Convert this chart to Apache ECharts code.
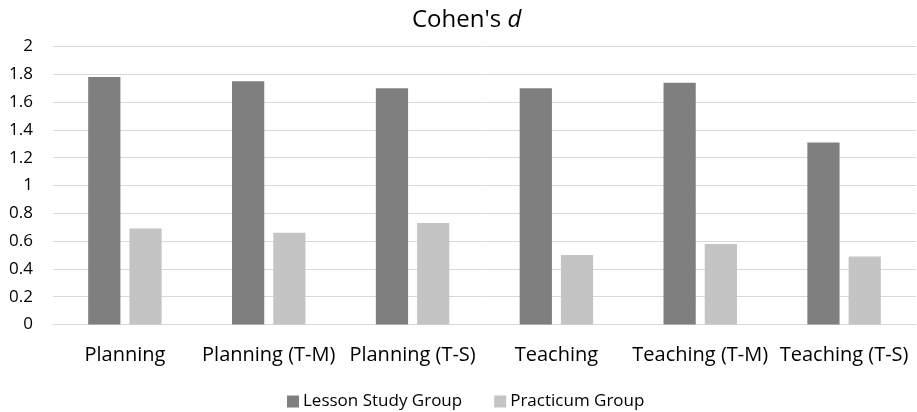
<!DOCTYPE html>
<html>
<head>
<meta charset="utf-8">
<script src="https://cdn.jsdelivr.net/npm/echarts@6/dist/echarts.min.js"></script>
<style>
  html, body { margin: 0; padding: 0; background: #ffffff; }
  #chart { width: 917px; height: 412px; }
</style>
</head>
<body>
<div id="chart"></div>
<script>
// Effect sizes (Cohen's d) per component
const categories = ['Planning', 'Planning (T-M)', 'Planning (T-S)', 'Teaching', 'Teaching (T-M)', 'Teaching (T-S)'];
const lessonStudy = [1.78, 1.75, 1.70, 1.70, 1.74, 1.31];
const practicum = [0.69, 0.66, 0.73, 0.50, 0.58, 0.49];
const seriesNames = ['Lesson Study Group', 'Practicum Group'];
const yTicks = [0, 0.2, 0.4, 0.6, 0.8, 1, 1.2, 1.4, 1.6, 1.8, 2];

const FONT = '"Open Sans", sans-serif';
const chart = echarts.init(document.getElementById('chart'), null, { renderer: 'canvas' });

chart.setOption({
  animation: false,
  backgroundColor: '#ffffff',
  title: {
    text: "Cohen's {i|d}",
    left: 407,
    top: 3,
    textStyle: {
      fontFamily: FONT,
      fontSize: 24,
      fontWeight: 'normal',
      color: '#000000',
      rich: {
        i: { fontFamily: FONT, fontSize: 24, fontStyle: 'italic', color: '#000000' }
      }
    }
  },
  legend: {
    top: 388,
    left: 282,
    itemWidth: 12,
    itemHeight: 12,
    itemGap: 32,
    icon: 'rect',
    textStyle: { fontFamily: FONT, fontSize: 17, color: '#000000', padding: [0, 0, 0, -1] },
    data: seriesNames
  },
  grid: { left: 53, right: 1, top: 46.5, bottom: 87.5, containLabel: false },
  xAxis: {
    type: 'category',
    data: categories,
    axisLine: { show: true, lineStyle: { color: '#d9d9d9', width: 1 } },
    axisTick: { show: false },
    axisLabel: { fontFamily: FONT, fontSize: 20, color: '#000000', margin: 21, interval: 0 }
  },
  yAxis: {
    type: 'value',
    min: 0,
    max: 2,
    interval: 0.2,
    axisLine: { show: false },
    axisTick: { show: false },
    splitLine: { lineStyle: { color: '#d9d9d9', width: 1 } },
    axisLabel: {
      fontFamily: FONT, fontSize: 17, color: '#000000', margin: 20,
      formatter: v => {
        const t = yTicks.find(x => Math.abs(x - v) < 1e-9);
        return t === undefined ? '' : String(t);
      }
    }
  },
  series: [
    {
      name: seriesNames[0],
      type: 'bar',
      data: lessonStudy,
      barWidth: '22.4%',
      barGap: '28%',
      itemStyle: { color: '#7f7f7f' }
    },
    {
      name: seriesNames[1],
      type: 'bar',
      data: practicum,
      barWidth: '22.4%',
      barGap: '28%',
      itemStyle: { color: '#c4c4c4' }
    }
  ]
});
</script>
</body>
</html>
